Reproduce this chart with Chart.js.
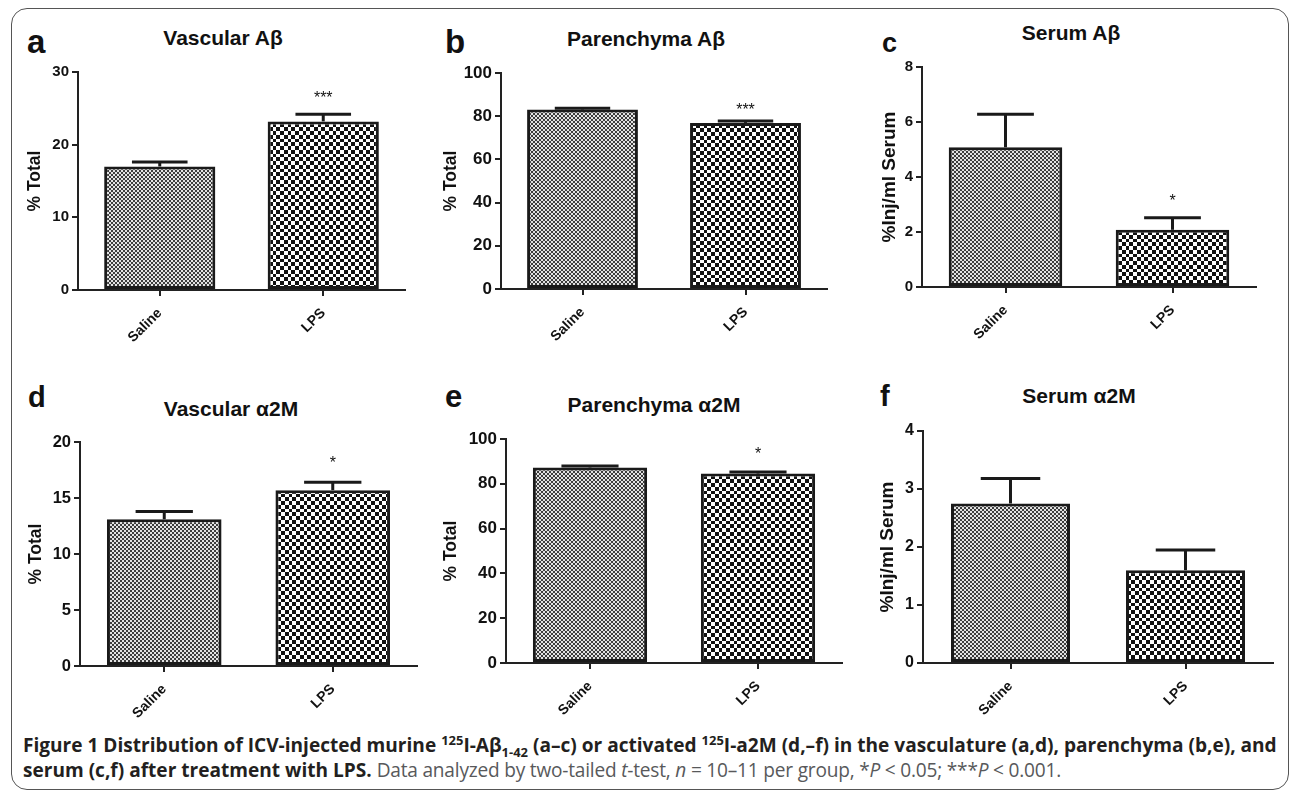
<!DOCTYPE html>
<html>
<head>
<meta charset="utf-8">
<script src="https://cdn.jsdelivr.net/npm/chart.js@4.4.1/dist/chart.umd.min.js"></script>
<style>
  html, body { margin: 0; padding: 0; background: #fff; }
  body { width: 1292px; height: 795px; position: relative; overflow: hidden; }
  .frame { position: absolute; left: 11px; top: 8px; width: 1278px; height: 782px;
           border: 1.5px solid #555; border-radius: 16px; box-sizing: border-box; }
  canvas { position: absolute; }
  .t { position: absolute; font-family: "Liberation Sans", Arial, sans-serif; font-weight: bold;
       color: #111; white-space: nowrap; }
  .cap { position: absolute; left: 23px; top: 734px; font-family: "Open Sans", sans-serif;
         font-size: 16px; line-height: 25px; color: #231f20; white-space: nowrap; }
  .cap b { font-weight: 700; }
  .cap .reg { color: #58595b; font-weight: 400; letter-spacing: -0.2px; }
  .cap sup, .cap sub { font-size: 0.68em; line-height: 0; }
</style>
</head>
<body>
<div class="frame"></div>
<div id="labels"></div>
<div class="cap" id="cap"><span id="line1"><b>Figure 1 Distribution of ICV-injected murine <sup>125</sup>I-Aβ<sub>1-42</sub> (a–c) or activated <sup>125</sup>I-a2M (d,–f) in the vasculature (a,d), parenchyma (b,e), and</b></span><br><b>serum (c,f) after treatment with LPS.</b> <span class="reg">Data analyzed by two-tailed <i>t</i>-test, <i>n</i> = 10–11 per group, *<i>P</i> &lt; 0.05; ***<i>P</i> &lt; 0.001.</span></div>
<script>
// ---------------- DATA ----------------
const categories = ['Saline', 'LPS'];

const vascAbMean  = [17.0, 23.2];
const vascAbSem   = [0.6, 1.0];
const vascAbStars = ['', '***'];

const parAbMean  = [83.1, 76.9];
const parAbSem   = [0.6, 0.9];
const parAbStars = ['', '***'];

const serAbMean  = [5.08, 2.08];
const serAbSem   = [1.2, 0.44];
const serAbStars = ['', '*'];

const vascA2mMean  = [13.1, 15.7];
const vascA2mSem   = [0.7, 0.7];
const vascA2mStars = ['', '*'];

const parA2mMean  = [87.3, 84.6];
const parA2mSem   = [0.7, 0.7];
const parA2mStars = ['', '*'];

const serA2mMean  = [2.75, 1.6];
const serA2mSem   = [0.43, 0.35];
const serA2mStars = ['', ''];

const panelLetters = ['a', 'b', 'c', 'd', 'e', 'f'];
const panelTitles  = ['Vascular Aβ', 'Parenchyma Aβ', 'Serum Aβ', 'Vascular α2M', 'Parenchyma α2M', 'Serum α2M'];
const yTitles      = ['% Total', '% Total', '%Inj/ml Serum', '% Total', '% Total', '%Inj/ml Serum'];
const yMaxes       = [30, 100, 8, 20, 100, 4];
const ySteps       = [10, 20, 2, 5, 20, 1];

const means = [vascAbMean, parAbMean, serAbMean, vascA2mMean, parA2mMean, serA2mMean];
const sems  = [vascAbSem, parAbSem, serAbSem, vascA2mSem, parA2mSem, serA2mSem];
const stars = [vascAbStars, parAbStars, serAbStars, vascA2mStars, parA2mStars, serA2mStars];

// ---------------- LAYOUT ----------------
const layout = [
  {L:78,  T:72,  R:405,  B:290, yTx:35,    yTs:17.5, tk:15, tx:223,  tb:45,  lx:27,  lb:53,  ls:33, so:19},
  {L:501, T:73,  R:827,  B:289, yTx:451.5, yTs:17.5, tk:17, tx:646,  tb:46,  lx:445, lb:53,  ls:33, so:14},
  {L:922, T:67,  R:1256, B:287, yTx:889.5, yTs:19,   tk:15, tx:1071, tb:40,  lx:882, lb:53,  ls:27, so:20},
  {L:80,  T:442, R:417,  B:666, yTx:36.5,  yTs:17.5, tk:16.5, tx:231,  tb:416, lx:28,  lb:408, ls:29, so:22},
  {L:506, T:439, R:842,  B:663, yTx:451.5, yTs:17.5, tk:17, tx:654,  tb:412, lx:445, lb:407, ls:31, so:21},
  {L:923, T:431, R:1273, B:663, yTx:887.5, yTs:19,   tk:16, tx:1079, tb:403, lx:880, lb:407, ls:29, so:20}
];

const FONT = '"Liberation Sans", Arial, sans-serif';
const TITLE_SIZE = 21;

// ---------------- PATTERNS ----------------
function finePattern() {
  const c = document.createElement('canvas'); c.width = 4; c.height = 4;
  const x = c.getContext('2d');
  x.fillStyle = '#e2e2e2'; x.fillRect(0, 0, 4, 4);
  x.fillStyle = '#3c3c3c'; x.fillRect(0, 0, 2, 2); x.fillRect(2, 2, 2, 2);
  return x.createPattern(c, 'repeat');
}
function coarsePattern() {
  const c = document.createElement('canvas'); c.width = 15; c.height = 15;
  const x = c.getContext('2d');
  x.fillStyle = '#ffffff'; x.fillRect(0, 0, 15, 15);
  x.fillStyle = '#111111';
  const edges = [0, 4, 8, 12, 15];
  for (let i = 0; i < 4; i++) for (let j = 0; j < 4; j++) {
    if ((i + j) % 2 === 0) x.fillRect(edges[i], edges[j], edges[i+1]-edges[i], edges[j+1]-edges[j]);
  }
  return x.createPattern(c, 'repeat');
}

// ---------------- PLUGIN: error bars + significance ----------------
const errBars = {
  id: 'errbars',
  afterDatasetsDraw(chart, args, opts) {
    const {ctx} = chart; const y = chart.scales.y;
    chart.data.datasets.forEach((ds, di) => {
      const meta = chart.getDatasetMeta(di);
      meta.data.forEach((bar, i) => {
        const top = y.getPixelForValue(ds.data[i] + ds.errors[i]);
        const x = bar.x;
        ctx.save();
        ctx.strokeStyle = '#1a1a1a';
        ctx.lineWidth = 3;
        ctx.beginPath(); ctx.moveTo(x, bar.y); ctx.lineTo(x, top); ctx.stroke();
        const hw = bar.width * 0.25;
        ctx.beginPath(); ctx.moveTo(x - hw, top); ctx.lineTo(x + hw, top); ctx.stroke();
        const s = ds.stars[i];
        if (s) {
          ctx.font = '16px ' + FONT; ctx.fillStyle = '#111';
          ctx.textAlign = 'center'; ctx.textBaseline = 'middle';
          ctx.fillText(s, x, top - opts.starOffset + 3.5);
        }
        ctx.restore();
      });
    });
  }
};

// ---------------- BUILD ----------------
const labelsDiv = document.getElementById('labels');
const fine = finePattern(), coarse = coarsePattern();

layout.forEach((p, k) => {
  const lt = document.createElement('div'); lt.className = 't';
  lt.style.fontSize = p.ls + 'px'; lt.style.lineHeight = p.ls + 'px';
  lt.style.left = p.lx + 'px'; lt.style.top = (p.lb - 0.8465 * p.ls) + 'px';
  lt.textContent = panelLetters[k]; labelsDiv.appendChild(lt);
  const tt = document.createElement('div'); tt.className = 't';
  tt.style.fontSize = TITLE_SIZE + 'px'; tt.style.lineHeight = TITLE_SIZE + 'px';
  tt.style.left = p.tx + 'px'; tt.style.transform = 'translateX(-50%)';
  tt.style.top = (p.tb - 0.8465 * TITLE_SIZE) + 'px';
  tt.textContent = panelTitles[k]; labelsDiv.appendChild(tt);

  const padTop = 20, xH = 75, padR = 10;
  const off = p.yTs * 1.2 / 2 + 4;
  const cl = Math.round(p.yTx - off);
  const yW = p.L - cl;
  const ct = p.T - padTop;
  const cw = p.R + padR - cl;
  const ch = p.B + xH - ct;
  const cv = document.createElement('canvas');
  cv.width = cw; cv.height = ch;
  cv.style.left = cl + 'px'; cv.style.top = ct + 'px';
  cv.style.width = cw + 'px'; cv.style.height = ch + 'px';
  document.body.appendChild(cv);

  new Chart(cv.getContext('2d'), {
    type: 'bar',
    data: {
      labels: categories,
      datasets: [{
        data: means[k],
        errors: sems[k],
        stars: stars[k],
        backgroundColor: [fine, coarse],
        borderColor: '#1a1a1a',
        borderWidth: 3,
        borderSkipped: false,
        barPercentage: 0.68,
        categoryPercentage: 1
      }]
    },
    options: {
      responsive: false,
      animation: false,
      events: [],
      layout: { padding: { top: padTop, right: padR, bottom: 0, left: 0 } },
      plugins: { legend: { display: false }, tooltip: { enabled: false }, errbars: { starOffset: p.so } },
      scales: {
        x: {
          grid: { display: true, drawOnChartArea: false, drawTicks: true, tickLength: 6, offset: false, color: '#222', lineWidth: 2 },
          border: { display: true, color: '#222', width: 2 },
          ticks: { font: { family: FONT, size: 14, weight: 'bold' }, color: '#111', minRotation: 45, maxRotation: 45, padding: 9 },
          afterFit: s => { s.height = xH; }
        },
        y: {
          min: 0, max: yMaxes[k],
          ticks: { stepSize: ySteps[k], font: { family: FONT, size: p.tk, weight: 'bold' }, color: '#111', padding: 3 },
          grid: { display: true, drawOnChartArea: false, drawTicks: true, tickLength: 6, color: '#222', lineWidth: 2 },
          border: { display: true, color: '#222', width: 2 },
          title: { display: true, text: yTitles[k], font: { family: FONT, size: p.yTs, weight: 'bold' }, color: '#111', padding: { top: 4, bottom: 4 } },
          afterFit: s => { s.width = yW; }
        }
      }
    },
    plugins: [errBars]
  });
});

(function fitCaption() {
  const cap = document.getElementById('cap'), l1 = document.getElementById('line1');
  const target = 1254;
  const w = l1.getBoundingClientRect().width;
  if (w > 0) {
    const fs = 16 * target / w;
    cap.style.fontSize = fs.toFixed(2) + 'px';
    const baseline = (25 - 1.362 * fs) / 2 + 1.069 * fs;
    cap.style.top = (753 - baseline) + 'px';
  }
})();
</script>
</body>
</html>
